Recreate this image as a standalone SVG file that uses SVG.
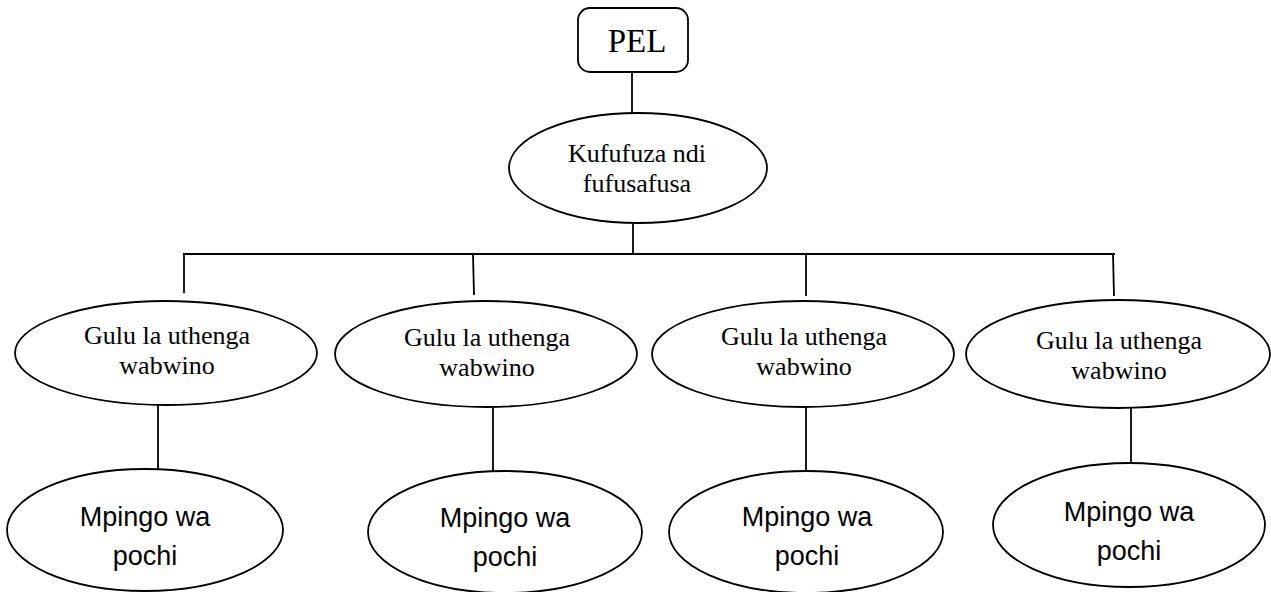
<svg xmlns="http://www.w3.org/2000/svg" width="1271" height="592" viewBox="0 0 1271 592">
  <style>
    .shape { fill: #ffffff; stroke: #000000; stroke-width: 1.8; }
    .link { fill: none; stroke: #000000; stroke-width: 1.8; }
    .serif { font-family: "Liberation Serif", "Times New Roman", serif; fill: #000000; text-anchor: middle; }
    .sans { font-family: "Liberation Sans", Arial, sans-serif; fill: #000000; text-anchor: middle; }
  </style>
  <rect width="1271" height="592" fill="#ffffff"/>

  <!-- tree connectors -->
  <g id="connectors">
    <line class="link" x1="632" y1="72" x2="632" y2="113"/>
    <line class="link" x1="633" y1="224" x2="633" y2="254"/>
    <line class="link" x1="183" y1="254" x2="1115" y2="254"/>
    <line class="link" x1="184" y1="254" x2="184" y2="293"/>
    <line class="link" x1="473" y1="254" x2="474" y2="295"/>
    <line class="link" x1="806" y1="254" x2="806" y2="296"/>
    <line class="link" x1="1113" y1="254" x2="1114" y2="296"/>
    <line class="link" x1="158" y1="405" x2="158" y2="469"/>
    <line class="link" x1="493" y1="407" x2="493" y2="471"/>
    <line class="link" x1="806" y1="407" x2="806" y2="471"/>
    <line class="link" x1="1131" y1="408" x2="1131" y2="464"/>
  </g>

  <!-- root -->
  <g id="pel">
    <rect class="shape" x="578" y="8" width="110" height="64" rx="12" ry="12"/>
    <text class="serif" x="637" y="52" font-size="33">PEL</text>
  </g>

  <g id="kufufuza">
    <ellipse class="shape" cx="638" cy="168" rx="129" ry="55"/>
    <text class="serif" x="637" y="162" font-size="26">Kufufuza ndi</text>
    <text class="serif" x="637" y="192" font-size="26">fufusafusa</text>
  </g>

  <!-- second level -->
  <g id="gulu-1">
    <ellipse class="shape" cx="166" cy="353" rx="151" ry="52"/>
    <text class="serif" x="167" y="344" font-size="26">Gulu la uthenga</text>
    <text class="serif" x="167" y="374" font-size="26">wabwino</text>
  </g>
  <g id="gulu-2">
    <ellipse class="shape" cx="486" cy="354" rx="151" ry="53"/>
    <text class="serif" x="487" y="346" font-size="26">Gulu la uthenga</text>
    <text class="serif" x="487" y="376" font-size="26">wabwino</text>
  </g>
  <g id="gulu-3">
    <ellipse class="shape" cx="803" cy="354" rx="151" ry="53"/>
    <text class="serif" x="804" y="345" font-size="26">Gulu la uthenga</text>
    <text class="serif" x="804" y="375" font-size="26">wabwino</text>
  </g>
  <g id="gulu-4">
    <ellipse class="shape" cx="1118" cy="354" rx="152" ry="54"/>
    <text class="serif" x="1119" y="349" font-size="26">Gulu la uthenga</text>
    <text class="serif" x="1119" y="379" font-size="26">wabwino</text>
  </g>

  <!-- third level -->
  <g id="mpingo-1">
    <ellipse class="shape" cx="145" cy="530" rx="138" ry="61"/>
    <text class="sans" x="145" y="526" font-size="27">Mpingo wa</text>
    <text class="sans" x="145" y="565" font-size="27">pochi</text>
  </g>
  <g id="mpingo-2">
    <ellipse class="shape" cx="505" cy="532" rx="137" ry="61"/>
    <text class="sans" x="505" y="527" font-size="27">Mpingo wa</text>
    <text class="sans" x="505" y="566" font-size="27">pochi</text>
  </g>
  <g id="mpingo-3">
    <ellipse class="shape" cx="806" cy="532" rx="137" ry="61"/>
    <text class="sans" x="807" y="526" font-size="27">Mpingo wa</text>
    <text class="sans" x="807" y="565" font-size="27">pochi</text>
  </g>
  <g id="mpingo-4">
    <ellipse class="shape" cx="1129" cy="525" rx="136" ry="62"/>
    <text class="sans" x="1129" y="521" font-size="27">Mpingo wa</text>
    <text class="sans" x="1129" y="560" font-size="27">pochi</text>
  </g>
</svg>
